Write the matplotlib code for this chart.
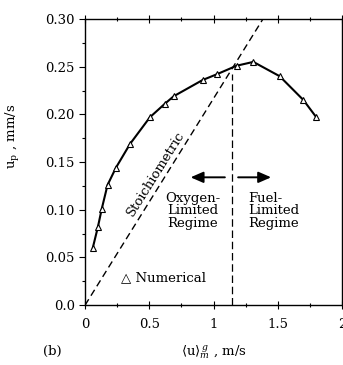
import matplotlib
matplotlib.use("Agg")
import matplotlib.pyplot as plt
from matplotlib.ticker import MultipleLocator

# numerical results
u_gas = [0.06, 0.10, 0.13, 0.175, 0.24, 0.35, 0.505, 0.62, 0.69,
         0.915, 1.025, 1.18, 1.31, 1.515, 1.70, 1.80]
u_p = [0.060, 0.082, 0.101, 0.126, 0.144, 0.169, 0.197, 0.211, 0.219,
       0.236, 0.242, 0.251, 0.255, 0.240, 0.215, 0.197]

stoich_x = [0.0, 1.385]
stoich_y = [0.0, 0.30]
regime_x = 1.14
regime_top = 0.242

x_ticks = [0, 0.5, 1, 1.5, 2]
x_labels = ["0", "0.5", "1", "1.5", "2"]
y_ticks = [0.0, 0.05, 0.10, 0.15, 0.20, 0.25, 0.30]
y_labels = ["0.0", "0.05", "0.10", "0.15", "0.20", "0.25", "0.30"]

plt.rcParams["font.family"] = ["DejaVu Serif"]
plt.rcParams["font.size"] = 9.5
plt.rcParams["mathtext.fontset"] = "dejavuserif"

fig = plt.figure(figsize=(3.43, 3.65), dpi=100)
ax = fig.add_axes([0.248, 0.164, 0.749, 0.784])

ax.plot(u_gas, u_p, color="black", lw=1.5, marker="^", ms=5,
        mfc="white", mec="black", mew=0.8)
ax.plot(stoich_x, stoich_y, color="black", lw=1.0, dashes=(5, 3))
ax.plot([regime_x, regime_x], [0, regime_top], color="black", lw=0.9,
        dashes=(6, 3))

arrow = dict(arrowstyle="-|>,head_length=0.8,head_width=0.35",
             color="black", lw=1.4)
ax.annotate("", xy=(0.80, 0.134), xytext=(1.11, 0.134), arrowprops=arrow)
ax.annotate("", xy=(1.47, 0.134), xytext=(1.17, 0.134), arrowprops=arrow)

ax.text(0.84, 0.099, "Oxygen-\nLimited\nRegime", ha="center", va="center",
        linespacing=0.95)
ax.text(1.27, 0.099, "Fuel-\nLimited\nRegime", ha="left", va="center",
        linespacing=0.95)
ax.text(0.55, 0.138, "Stoichiometric", rotation=58, ha="center",
        va="center")
ax.text(0.28, 0.029, "\u25b3 Numerical", ha="left", va="center")

ax.set_xlim(0, 2)
ax.set_ylim(0, 0.30)
ax.set_xticks(x_ticks)
ax.set_xticklabels(x_labels)
ax.set_yticks(y_ticks)
ax.set_yticklabels(y_labels)
ax.xaxis.set_minor_locator(MultipleLocator(0.25))
ax.yaxis.set_minor_locator(MultipleLocator(0.025))
ax.tick_params(which="both", direction="out", top=True, right=False,
               width=0.8)
ax.tick_params(axis="x", which="both", direction="inout")
ax.tick_params(axis="x", which="major", pad=6)
ax.tick_params(which="major", length=4)
ax.tick_params(axis="x", which="major", length=6)
ax.tick_params(which="minor", length=2.5)
for s in ax.spines.values():
    s.set_linewidth(1.0)

ax.set_xlabel(r"$\langle$u$\rangle^{\,g}_{m}$ , m/s", labelpad=9)
ax.set_ylabel(r"u$_{\rm p}$ , mm/s")
ax.yaxis.set_label_coords(-0.245, 0.59)
fig.text(0.125, 0.036, "(b)", va="center")

fig.savefig("out.png", dpi=100)
